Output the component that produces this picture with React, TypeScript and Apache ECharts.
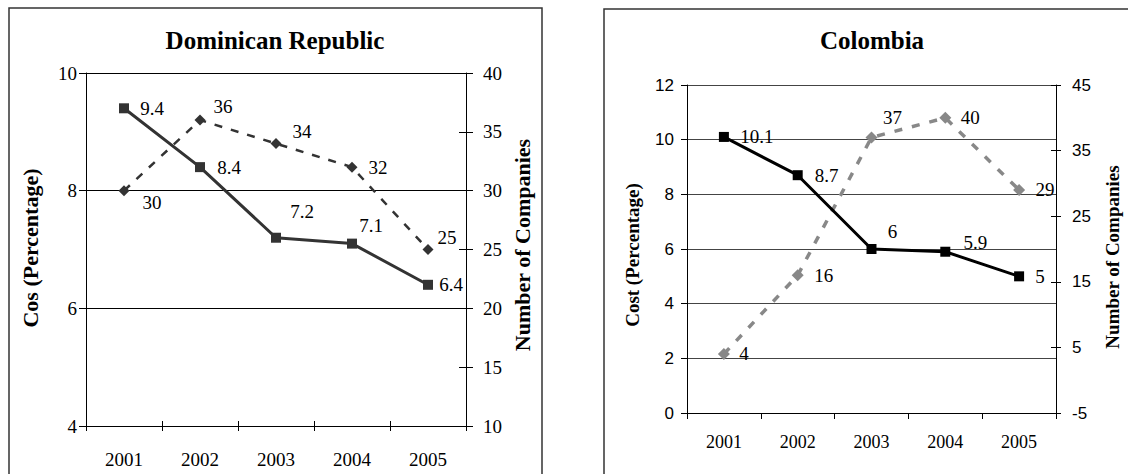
import React, { useEffect, useRef } from "react";
import * as echarts from "echarts";

const categories = ["2001", "2002", "2003", "2004", "2005"];
const drCost = [9.4, 8.4, 7.2, 7.1, 6.4];
const drCompanies = [30, 36, 34, 32, 25];
const coCost = [10.1, 8.7, 6, 5.9, 5];
const coCompanies = [4, 16, 37, 40, 29];

const drTitle = "Dominican Republic";
const coTitle = "Colombia";
const drLeftName = "Cos (Percentage)";
const coLeftName = "Cost (Percentage)";
const rightName = "Number of Companies";

// label offsets (px) relative to marker centre
const drCostOff = [[28, 0], [29, 0], [26, -26], [19, -18], [23, 0]];
const drCompOff = [[28, 12], [23, -14], [26, -12], [26, 0], [19, -12]];
const coCostOff = [[33, 0], [29, 0], [21, -18], [30, -9], [21, 0]];
const coCompOff = [[20, 0], [26, 0], [21, -20], [25, 0], [26, 0]];

const SERIF = "'Liberation Serif', 'Times New Roman', serif";
const SANS = "'Liberation Sans', Arial, sans-serif";

function withLabels(values: number[], offs: number[][], size: number) {
  return values.map((v, i) => ({
    value: v,
    label: {
      show: true,
      position: "inside",
      offset: offs[i],
      color: "#000",
      fontFamily: SERIF,
      fontSize: size,
    },
  }));
}

export default function App() {
  const ref = useRef<HTMLDivElement>(null);
  useEffect(() => {
    document.body.style.margin = "0";
    const chart = echarts.init(ref.current!, null, { renderer: "svg" });
    const blackLine = { lineStyle: { color: "#000", width: 1 } };
    const option: any = {
      animation: false,
      backgroundColor: "#fff",
      grid: [
        { left: 86, right: 1128 - 466, top: 73, bottom: 474 - 426 },
        { left: 687, right: 1128 - 1056, top: 85, bottom: 474 - 413 },
      ],
      xAxis: [
        {
          gridIndex: 0,
          type: "category",
          data: categories,
          axisLine: blackLine,
          axisTick: { show: true, inside: false, length: 5, lineStyle: { color: "#000" } },
          axisLabel: { color: "#000", fontFamily: SERIF, fontSize: 19, margin: 24 },
        },
        {
          gridIndex: 0,
          type: "category",
          data: categories,
          position: "bottom",
          axisLine: { show: false },
          axisTick: { show: true, inside: true, length: 5, lineStyle: { color: "#000" } },
          axisLabel: { show: false },
        },
        {
          gridIndex: 1,
          type: "category",
          data: categories,
          axisLine: blackLine,
          axisTick: { show: true, inside: false, length: 6, lineStyle: { color: "#000" } },
          axisLabel: { color: "#000", fontFamily: SERIF, fontSize: 18, margin: 20 },
        },
      ],
      yAxis: [
        {
          gridIndex: 0,
          type: "value",
          position: "left",
          min: 4,
          max: 10,
          interval: 2,
          axisLine: { show: true, ...blackLine },
          axisTick: { show: true, length: 7, lineStyle: { color: "#000" } },
          splitLine: { show: true, lineStyle: { color: "#000", width: 1 } },
          axisLabel: { color: "#000", fontFamily: SERIF, fontSize: 19, margin: 9 },
        },
        {
          gridIndex: 0,
          type: "value",
          position: "right",
          min: 10,
          max: 40,
          interval: 5,
          axisLine: { show: true, ...blackLine },
          axisTick: { show: true, length: 7, lineStyle: { color: "#000" } },
          splitLine: { show: false },
          axisLabel: { color: "#000", fontFamily: SERIF, fontSize: 19, margin: 17 },
        },
        {
          gridIndex: 0,
          type: "value",
          position: "right",
          min: 10,
          max: 40,
          interval: 5,
          axisLine: { show: false },
          axisTick: { show: true, inside: true, length: 7, lineStyle: { color: "#000" } },
          splitLine: { show: false },
          axisLabel: { show: false },
        },
        {
          gridIndex: 1,
          type: "value",
          position: "left",
          min: 0,
          max: 12,
          interval: 2,
          axisLine: { show: true, ...blackLine },
          axisTick: { show: true, length: 6, lineStyle: { color: "#000" } },
          splitLine: { show: true, lineStyle: { color: "#444", width: 1 } },
          axisLabel: { color: "#000", fontFamily: SANS, fontSize: 17, margin: 13 },
        },
        {
          gridIndex: 1,
          type: "value",
          position: "right",
          min: -5,
          max: 45,
          interval: 10,
          axisLine: { show: true, ...blackLine },
          axisTick: { show: true, length: 5, lineStyle: { color: "#000" } },
          splitLine: { show: false },
          axisLabel: { color: "#000", fontFamily: SANS, fontSize: 17, margin: 16 },
        },
        {
          gridIndex: 1,
          type: "value",
          position: "right",
          min: -5,
          max: 45,
          interval: 10,
          axisLine: { show: false },
          axisTick: { show: true, inside: true, length: 5, lineStyle: { color: "#000" } },
          splitLine: { show: false },
          axisLabel: { show: false },
        },
      ],
      series: [
        {
          name: "Cost DR",
          type: "line",
          xAxisIndex: 0,
          yAxisIndex: 0,
          data: withLabels(drCost, drCostOff, 19),
          symbol: "rect",
          symbolSize: 10,
          itemStyle: { color: "#333" },
          lineStyle: { color: "#333", width: 3 },
          z: 3,
        },
        {
          name: "Companies DR",
          type: "line",
          xAxisIndex: 0,
          yAxisIndex: 1,
          data: withLabels(drCompanies, drCompOff, 19),
          symbol: "diamond",
          symbolSize: 11,
          itemStyle: { color: "#333" },
          lineStyle: { color: "#333", width: 2.5, type: [8, 9] },
          z: 3,
        },
        {
          name: "Cost CO",
          type: "line",
          xAxisIndex: 2,
          yAxisIndex: 3,
          data: withLabels(coCost, coCostOff, 19),
          symbol: "rect",
          symbolSize: 10,
          itemStyle: { color: "#000" },
          lineStyle: { color: "#000", width: 3 },
          z: 4,
        },
        {
          name: "Companies CO",
          type: "line",
          xAxisIndex: 2,
          yAxisIndex: 4,
          data: withLabels(coCompanies, coCompOff, 19),
          symbol: "diamond",
          symbolSize: 12,
          itemStyle: { color: "#888" },
          lineStyle: { color: "#888", width: 3.5, type: [8, 10] },
          z: 3,
        },
      ],
      graphic: [
        {
          type: "rect",
          shape: { x: 9, y: 8, width: 533, height: 520 },
          style: { fill: "none", stroke: "#333", lineWidth: 1.5 },
          silent: true,
        },
        {
          type: "rect",
          shape: { x: 604, y: 9, width: 600, height: 520 },
          style: { fill: "none", stroke: "#333", lineWidth: 1.5 },
          silent: true,
        },
        {
          type: "text",
          x: 275,
          y: 40,
          style: {
            text: drTitle,
            fill: "#000",
            font: `bold 25px ${SERIF}`,
            textAlign: "center",
            textVerticalAlign: "middle",
          },
        },
        {
          type: "text",
          x: 872,
          y: 40,
          style: {
            text: coTitle,
            fill: "#000",
            font: `bold 25px ${SERIF}`,
            textAlign: "center",
            textVerticalAlign: "middle",
          },
        },
        {
          type: "text",
          x: 30,
          y: 248,
          rotation: Math.PI / 2,
          style: {
            text: drLeftName,
            fill: "#000",
            font: `bold 22px ${SERIF}`,
            textAlign: "center",
            textVerticalAlign: "middle",
          },
        },
        {
          type: "text",
          x: 522,
          y: 245,
          rotation: Math.PI / 2,
          style: {
            text: rightName,
            fill: "#000",
            font: `bold 22px ${SERIF}`,
            textAlign: "center",
            textVerticalAlign: "middle",
          },
        },
        {
          type: "text",
          x: 632,
          y: 255,
          rotation: Math.PI / 2,
          style: {
            text: coLeftName,
            fill: "#000",
            font: `bold 19px ${SERIF}`,
            textAlign: "center",
            textVerticalAlign: "middle",
          },
        },
        {
          type: "text",
          x: 1112,
          y: 257,
          rotation: Math.PI / 2,
          style: {
            text: rightName,
            fill: "#000",
            font: `bold 19px ${SERIF}`,
            textAlign: "center",
            textVerticalAlign: "middle",
          },
        },
      ],
    };
    chart.setOption(option);
    return () => chart.dispose();
  }, []);
  return (
    <div
      ref={ref}
      style={{ position: "fixed", left: 0, top: 0, width: 1128, height: 474, background: "#fff" }}
    />
  );
}
